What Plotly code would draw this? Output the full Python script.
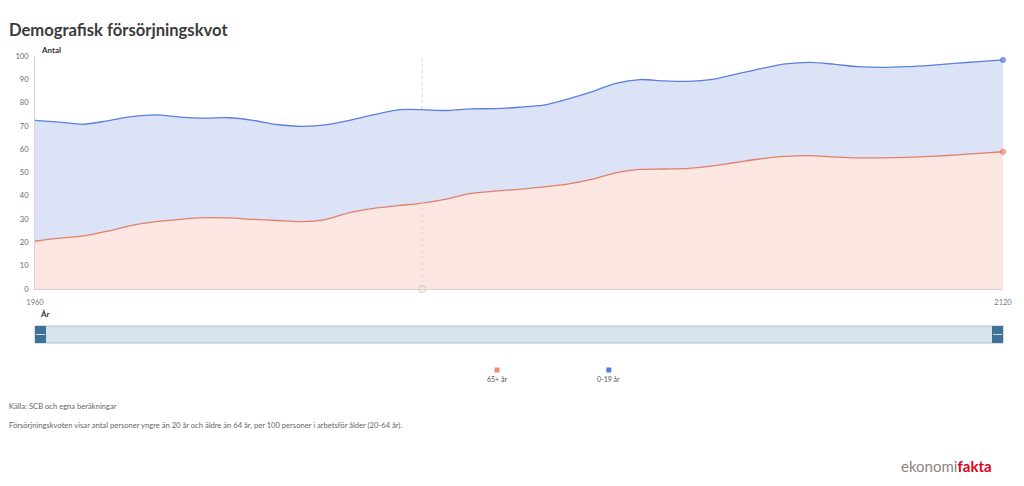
import plotly.graph_objects as go

years = list(range(1960, 2121, 4))
aged_65_plus = [20.5, 21.8, 22.8, 24.8, 27.3, 28.9, 29.9, 30.6, 30.5, 29.9,
                29.4, 28.9, 29.8, 32.8, 34.6, 35.8, 36.9, 38.6, 41.0, 42.0,
                42.8, 43.8, 45.0, 47.0, 49.8, 51.3, 51.5, 51.8, 52.8, 54.4,
                55.9, 56.9, 57.2, 56.7, 56.3, 56.3, 56.5, 56.9, 57.5, 58.2, 58.9]
aged_0_19 = [51.9, 49.8, 47.9, 47.4, 46.7, 45.8, 43.9, 42.7, 43.0, 42.5,
             41.2, 40.9, 40.6, 39.6, 40.2, 41.1, 40.1, 38.0, 36.3, 35.4,
             35.2, 35.1, 36.5, 37.6, 38.5, 38.6, 37.8, 37.3, 37.2, 37.9,
             38.7, 39.7, 40.1, 39.8, 39.1, 38.8, 38.9, 39.1, 39.3, 39.4, 39.4]
series_names = ["65+ år", "0-19 år"]
y_ticks = list(range(0, 101, 10))
x_ticks = [1960, 2120]
current_year = 2024

RED_LINE, RED_FILL, RED_DOT = "#e57f6c", "rgba(249,214,205,0.6)", "#f08a72"
BLUE_LINE, BLUE_FILL, BLUE_DOT = "#5a7fe2", "rgba(196,208,242,0.6)", "#5a7be0"

L, R, T, B = 35, 1005, 56, 289


def px(p):
    return (p - L) / (R - L)


def py(p):
    return (B - p) / (B - T)


n = len(years)
sizes = [0] * (n - 1) + [5.5]

fig = go.Figure()
fig.add_trace(go.Scatter(
    x=years, y=aged_65_plus, name=series_names[0], stackgroup="s",
    mode="lines+markers", line=dict(color=RED_LINE, width=1.3, shape="spline", smoothing=0.8),
    marker=dict(size=sizes, color=RED_DOT), fillcolor=RED_FILL, cliponaxis=False,
))
fig.add_trace(go.Scatter(
    x=years, y=aged_0_19, name=series_names[1], stackgroup="s",
    mode="lines+markers", line=dict(color=BLUE_LINE, width=1.3, shape="spline", smoothing=0.8),
    marker=dict(size=sizes, color=BLUE_DOT), fillcolor=BLUE_FILL, cliponaxis=False,
))
fig.add_trace(go.Scatter(
    x=[current_year], y=[0], mode="markers", showlegend=False, cliponaxis=False,
    marker=dict(symbol="circle-open", size=7, color="#c8c8c8", line=dict(width=1)),
    hoverinfo="skip",
))

FONT = "Lato, Open Sans, sans-serif"
shapes = [
    dict(type="line", xref="x", yref="paper", x0=current_year, x1=current_year,
         y0=0, y1=1, line=dict(color="#dcdcdc", width=1.2, dash="dot"), layer="above"),
    # navigator bar
    dict(type="rect", xref="paper", yref="paper", x0=px(35), x1=px(1005), y0=py(343), y1=py(326),
         fillcolor="#d6e3eb", line=dict(color="#a9c4d3", width=1)),
    dict(type="rect", xref="paper", yref="paper", x0=px(35), x1=px(46), y0=py(343), y1=py(326),
         fillcolor="#3f7396", line=dict(width=0)),
    dict(type="rect", xref="paper", yref="paper", x0=px(994), x1=px(1005), y0=py(343), y1=py(326),
         fillcolor="#3f7396", line=dict(width=0)),
    dict(type="line", xref="paper", yref="paper", x0=px(36), x1=px(45), y0=py(334.5), y1=py(334.5),
         line=dict(color="#d9d9d9", width=1)),
    dict(type="line", xref="paper", yref="paper", x0=px(995), x1=px(1004), y0=py(334.5), y1=py(334.5),
         line=dict(color="#d9d9d9", width=1)),
    # legend squares
    dict(type="rect", xref="paper", yref="paper", x0=px(495.5), x1=px(500.5), y0=py(372.5), y1=py(367.5),
         fillcolor=RED_DOT, line=dict(width=0)),
    dict(type="rect", xref="paper", yref="paper", x0=px(607.5), x1=px(612.5), y0=py(372.5), y1=py(367.5),
         fillcolor=BLUE_DOT, line=dict(width=0)),
]


def ann(text, x, y, size, color="#555", xanchor="left", bold=False, family=FONT):
    return dict(text=f"<b>{text}</b>" if bold else text, x=px(x), y=py(y), xref="paper", yref="paper",
                xanchor=xanchor, yanchor="middle", showarrow=False,
                font=dict(size=size, color=color, family=family))


annotations = [
    ann("Demografisk försörjningskvot", 7, 30, 16.6, "#3b3b3b", bold=True),
    ann("Antal", 39, 50, 8, "#333", bold=True),
    ann("År", 38, 314, 8, "#333", bold=True),
    ann(series_names[0], 498, 378.5, 7, "#555", xanchor="center"),
    ann(series_names[1], 610, 378.5, 7, "#555", xanchor="center"),
    ann("Källa: SCB och egna beräkningar", 7, 406, 7.6, "#666"),
    ann("Försörjningskvoten visar antal personer yngre än 20 år och äldre än 64 år, per 100 personer i arbetsför ålder (20-64 år).",
        7, 424.5, 7.6, "#666"),
    ann("<span style='color:#8b8580'>ekonomi</span><b><span style='color:#e2001a'>fakta</span></b>",
        901, 466, 15, "#8b8580"),
]

fig.update_layout(
    width=1024, height=486,
    margin=dict(l=L, r=1024 - R, t=T, b=486 - B),
    paper_bgcolor="white", plot_bgcolor="white",
    showlegend=False,
    font=dict(family=FONT, size=8, color="#666"),
    shapes=shapes, annotations=annotations,
    xaxis=dict(range=[1960, 2120], tickvals=x_ticks, ticktext=[str(v) for v in x_ticks],
               showgrid=False, zeroline=False, showline=True, linecolor="#d9d0d0", linewidth=1,
               ticks="", tickfont=dict(size=7.5, color="#777"), ticklabelstandoff=6, fixedrange=True),
    yaxis=dict(range=[0, 100], tickvals=y_ticks, showgrid=False, zeroline=False,
               showline=True, linecolor="#d6d6d6", linewidth=1, ticks="",
               tickfont=dict(size=7.5, color="#666"), ticklabelstandoff=4, fixedrange=True),
)

fig.write_html("out.html")
